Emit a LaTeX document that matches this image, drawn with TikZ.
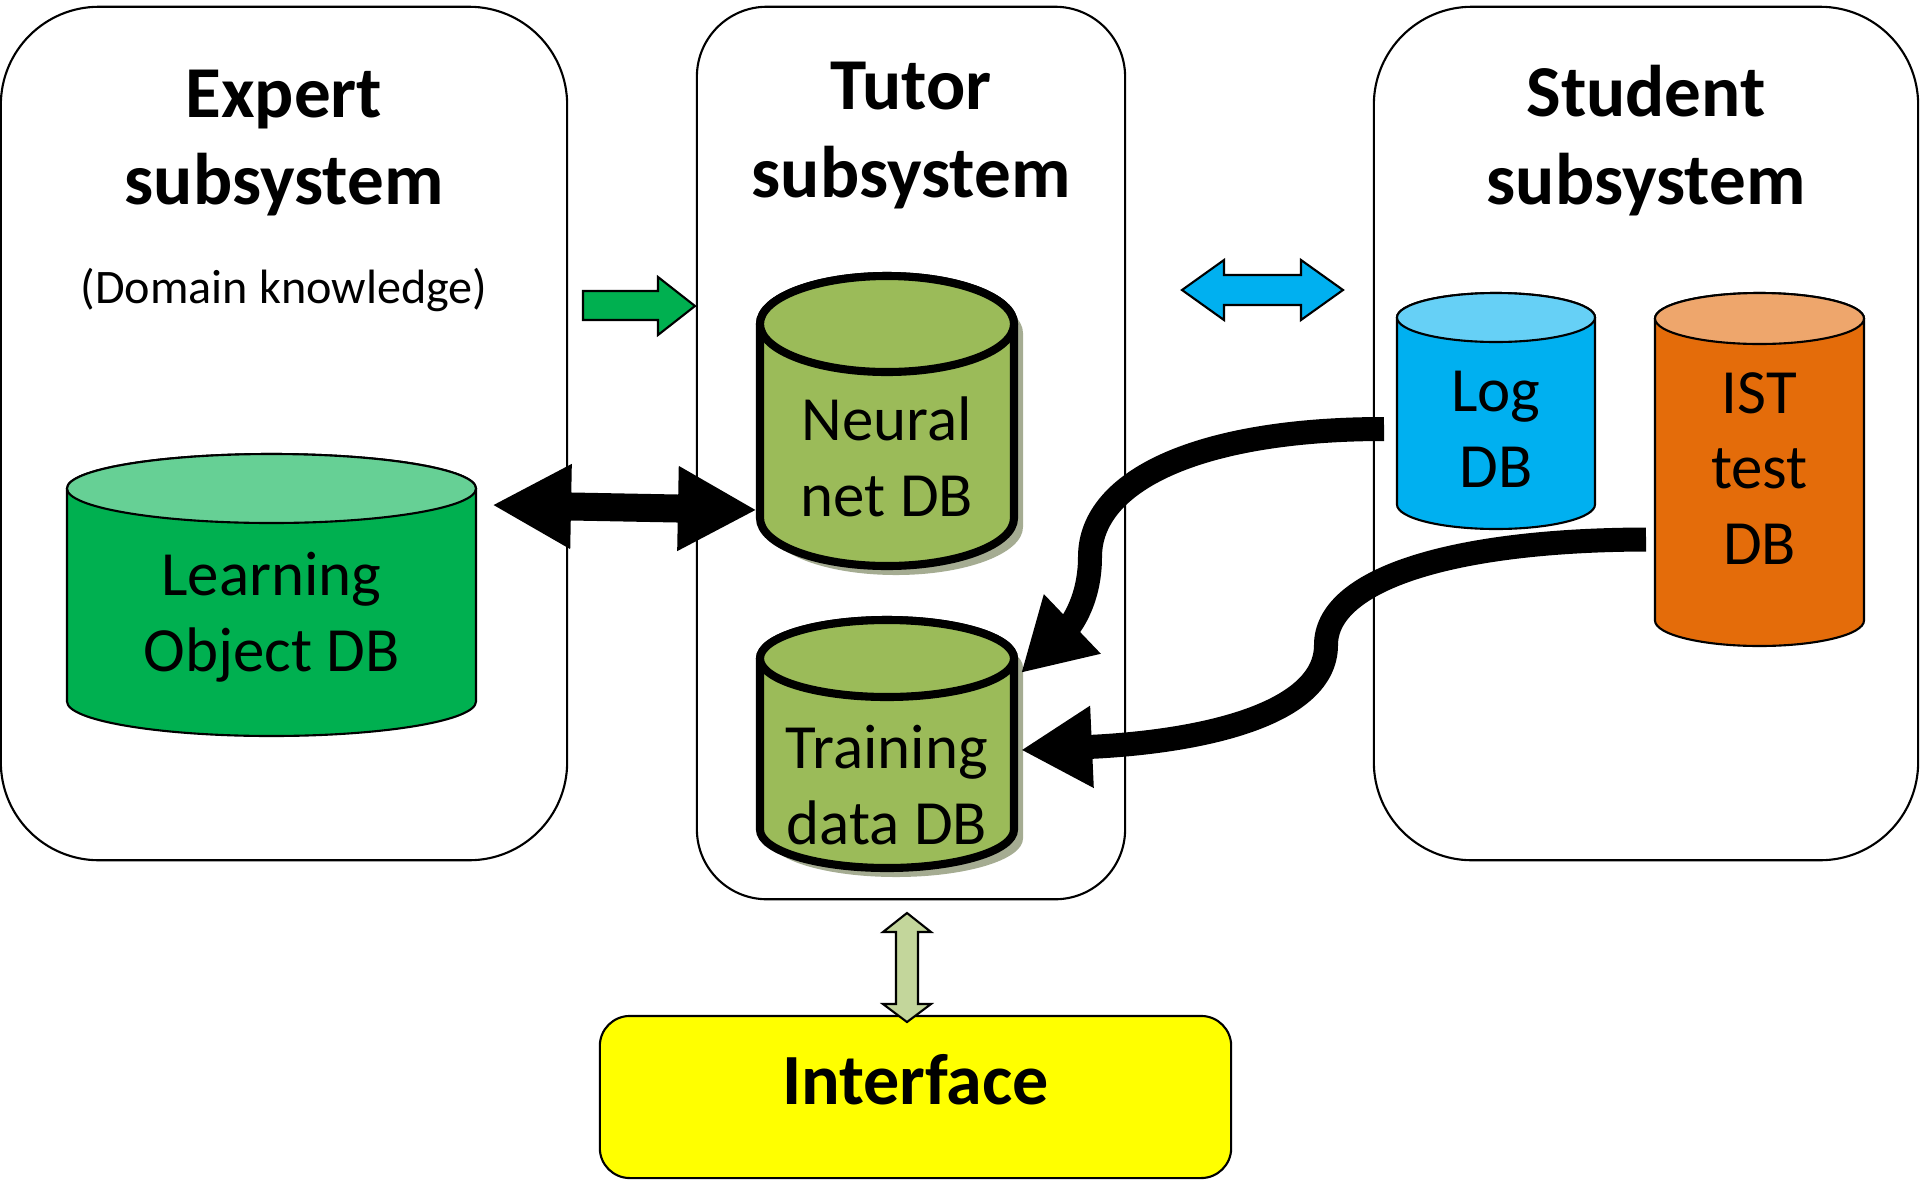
\documentclass[tikz,border=0pt]{standalone}
\usepackage{fontspec}
\setmainfont{Carlito}
\usepackage{tikz}
\usetikzlibrary{arrows.meta,calc}

\definecolor{grnDB}{HTML}{00B050}
\definecolor{grnTop}{HTML}{66D095}
\definecolor{oliveDB}{HTML}{9BBB59}
\definecolor{blueDB}{HTML}{00B0F0}
\definecolor{blueTop}{HTML}{66D0F6}
\definecolor{orangeDB}{HTML}{E46C0A}
\definecolor{orangeTop}{HTML}{EEA66C}
\definecolor{ifArrow}{HTML}{C3D69B}
\definecolor{ifFill}{HTML}{FFFF00}
\definecolor{shadowc}{RGB}{165,172,146}

% database cylinder: style, name, centre x, top, x radius, y radius, bottom, body, lid
\newcommand{\dbcyl}[9]{%
  \coordinate (#2) at (#3,{(#4+#7)/2});
  \path[#1, fill=#8] ({#3-#5},{#4+#6}) -- ({#3-#5},{#7-#6})
    arc[start angle=180, end angle=360, x radius=#5*0.01cm, y radius=#6*0.01cm]
    -- ({#3+#5},{#4+#6})
    arc[start angle=0, end angle=180, x radius=#5*0.01cm, y radius=#6*0.01cm] -- cycle;
  \path[#1, fill=#9] (#3,{#4+#6}) ellipse[x radius=#5*0.01cm, y radius=#6*0.01cm];
}
% its shadow: centre x, top, x radius, y radius, bottom
\newcommand{\dbshade}[5]{%
  \fill[shadowc, shift={(0.09cm,-0.09cm)}] ({#1-#3},{#2+#4}) -- ({#1-#3},{#5-#4})
    arc[start angle=180, end angle=360, x radius=#3*0.01cm, y radius=#4*0.01cm]
    -- ({#1+#3},{#2+#4})
    arc[start angle=0, end angle=180, x radius=#3*0.01cm, y radius=#4*0.01cm] -- cycle;
}

\tikzset{
  sysbox/.style={draw, line width=0.6pt, inner sep=0pt},
  db/.style={draw, line width=0.6pt},
  nndb/.style={draw, line width=2.3pt},
  title/.style={font=\bfseries\fontsize{20.8}{25}\selectfont, align=center, inner sep=0pt},
  dbtext/.style={font=\fontsize{17.9}{21.5}\selectfont, align=center, inner sep=0pt},
  blk/.style={draw, line width=0.6pt},
  flow/.style={line width=0.24cm, -{Triangle[length=0.71cm,width=0.77cm]}}
}

\begin{document}
\begin{tikzpicture}[x=0.01cm, y=-0.01cm]
  \useasboundingbox (0,0) rectangle (1920,1181);

  % subsystems
  \node[sysbox, rounded corners=0.98cm, minimum width=5.66cm, minimum height=8.53cm] (expert) at (284,433.5) {};
  \node[sysbox, rounded corners=0.70cm, minimum width=4.28cm, minimum height=8.92cm] (tutor) at (911,453) {};
  \node[sysbox, rounded corners=0.98cm, minimum width=5.44cm, minimum height=8.53cm] (student) at (1646,433.5) {};
  \node[sysbox, rounded corners=0.30cm, fill=ifFill, minimum width=6.31cm, minimum height=1.62cm] (iface) at (915.5,1097) {};

  \node[title] (expert-t) at (284,143) {Expert\\subsystem};
  \node[title] (tutor-t) at (911,135.5) {Tutor\\subsystem};
  \node[title] (student-t) at (1646,140.5) {Student\\subsystem};
  \node[font=\fontsize{13.7}{16}\selectfont, anchor=base, inner sep=0pt] (domain) at (284,303) {(Domain knowledge)};
  \node[title, font=\bfseries\fontsize{20.5}{25}\selectfont, anchor=base] (iface-t) at (915.5,1104) {Interface};

  % databases
  \dbcyl{db}{learn}{271.5}{454}{204.5}{34.5}{736}{grnDB}{grnTop}
  \dbshade{887}{276}{127}{48}{566}
  \dbcyl{nndb}{neural}{887}{276}{127}{48}{566}{oliveDB}{oliveDB}
  \dbshade{887}{620}{127}{38.5}{868}
  \dbcyl{nndb}{train}{887}{620}{127}{38.5}{868}{oliveDB}{oliveDB}
  \dbcyl{db}{log}{1496}{293}{99}{24.5}{529}{blueDB}{blueTop}
  \dbcyl{db}{ist}{1759.5}{293}{104.5}{25.5}{646}{orangeDB}{orangeTop}

  \node[dbtext] (learn-t) at (271.5,617) {Learning\\Object DB};
  \node[dbtext] (neural-t) at (887,457) {Neural\\net DB};
  \node[dbtext] (train-t) at (887,785) {Training\\data DB};
  \node[dbtext] (log-t) at (1496,429) {Log\\DB};
  \node[dbtext] (ist-t) at (1759.5,468.5) {IST\\test\\DB};

  % block arrows
  \draw[blk, fill=grnDB] (583,291) -- (658,291) -- (658,277) -- (695,306)
    -- (658,335) -- (658,320) -- (583,320) -- cycle;
  \draw[blk, fill=blueDB] (1182,290) -- (1224,260) -- (1224,275) -- (1301,275)
    -- (1301,260) -- (1343,290) -- (1301,320) -- (1301,305) -- (1224,305)
    -- (1224,320) -- cycle;
  \draw[blk, fill=ifArrow] (907,913) -- (931,932) -- (918,932) -- (918,1004)
    -- (931,1004) -- (907,1022) -- (883,1004) -- (896,1004) -- (896,932)
    -- (883,932) -- cycle;

  % connectors
  \draw[line width=0.28cm, {Triangle[length=0.79cm,width=0.79cm]}-{Triangle[length=0.79cm,width=0.79cm]}]
    ($(learn)+(220.5,-90)$) -- ($(neural)+(-130,89)$);
  \draw[flow] ($(log)+(-112,18)$) .. controls (1200,429) and (1090,480) .. (1090,557)
    .. controls (1090,605) and (1066,630) .. ($(train)+(134,-71)$);
  \draw[flow] ($(ist)+(-113.5,70)$) .. controls (1450,540) and (1326,580) .. (1326,645)
    .. controls (1326,715) and (1200,742) .. ($(train)+(134,6)$);
\end{tikzpicture}
\end{document}
